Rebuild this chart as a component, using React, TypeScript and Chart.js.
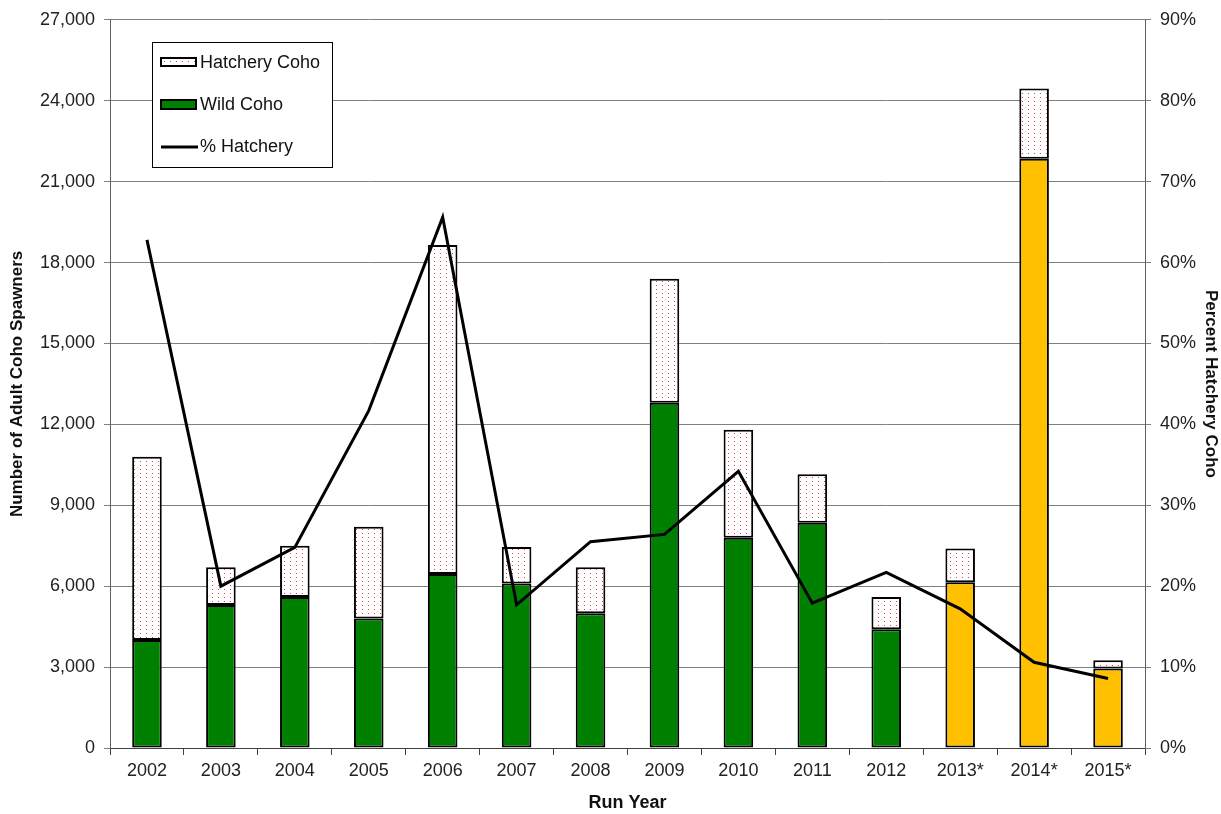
import React, { useEffect, useRef } from "react";
import Chart from "chart.js/auto";

const runYears = ["2002", "2003", "2004", "2005", "2006", "2007", "2008", "2009", "2010", "2011", "2012", "2013*", "2014*", "2015*"];
const wildCoho = [4000, 5300, 5600, 4800, 6450, 6100, 5000, 12800, 7800, 8350, 4400, 6150, 21850, 2950];
const hatcheryCoho = [6800, 1400, 1900, 3400, 12200, 1350, 1700, 4600, 4000, 1800, 1200, 1250, 2600, 300];
const pctHatchery = [62.8, 20.0, 24.8, 41.7, 65.6, 17.7, 25.5, 26.4, 34.2, 17.9, 21.7, 17.2, 10.6, 8.6];

const FONT = "'Liberation Sans', Arial, sans-serif";
const GREEN = "#008000";
const GOLD = "#FFC000";

function makePattern(): CanvasPattern | string {
  const c = document.createElement("canvas");
  c.width = 6;
  c.height = 4;
  const ctx = c.getContext("2d");
  if (!ctx) return "#ffffff";
  ctx.fillStyle = "#ffffff";
  ctx.fillRect(0, 0, 6, 4);
  ctx.fillStyle = "#e04848";
  ctx.fillRect(2, 1, 1, 1);
  const p = ctx.createPattern(c, "repeat");
  return p || "#ffffff";
}

export default function App() {
  const ref = useRef<HTMLCanvasElement | null>(null);

  useEffect(() => {
    if (!ref.current) return;
    const pattern = makePattern();

    const legendPlugin = {
      id: "boxLegend",
      afterDatasetsDraw(chart: any) {
        const ctx = chart.ctx as CanvasRenderingContext2D;
        ctx.save();
        const x = 152.5, y = 42.5, w = 180, h = 125;
        ctx.fillStyle = "#ffffff";
        ctx.fillRect(x, y, w, h);
        ctx.strokeStyle = "#000000";
        ctx.lineWidth = 1;
        ctx.strokeRect(x, y, w, h);
        ctx.font = `18px ${FONT}`;
        ctx.textBaseline = "middle";
        ctx.textAlign = "left";
        // Hatchery
        ctx.fillStyle = pattern as any;
        ctx.fillRect(161, 58, 35, 8);
        ctx.lineWidth = 2;
        ctx.strokeRect(161, 58, 35, 8);
        ctx.fillStyle = "#111";
        ctx.fillText("Hatchery Coho", 200, 63);
        // Wild
        ctx.fillStyle = GREEN;
        ctx.fillRect(161, 100, 35, 9);
        ctx.strokeStyle = "#000";
        ctx.strokeRect(161, 100, 35, 9);
        ctx.fillStyle = "#111";
        ctx.fillText("Wild Coho", 200, 105);
        // Line
        ctx.beginPath();
        ctx.moveTo(161, 147);
        ctx.lineTo(198, 147);
        ctx.lineWidth = 3;
        ctx.stroke();
        ctx.fillText("% Hatchery", 200, 147);
        ctx.restore();
      },
    };

    const wildColors = runYears.map((y) => (y.endsWith("*") ? GOLD : GREEN));

    const chart = new Chart(ref.current, {
      type: "bar",
      data: {
        labels: runYears,
        datasets: [
          {
            type: "bar",
            label: "Wild Coho",
            data: wildCoho,
            backgroundColor: wildColors,
            borderColor: "#000",
            borderWidth: 2,
            borderSkipped: false,
            stack: "s",
            yAxisID: "y",
            order: 1,
            barPercentage: 0.4,
            categoryPercentage: 1,
          },
          {
            type: "bar",
            label: "Hatchery Coho",
            data: hatcheryCoho,
            backgroundColor: pattern as any,
            borderColor: "#000",
            borderWidth: 2,
            borderSkipped: false,
            stack: "s",
            yAxisID: "y",
            order: 1,
            barPercentage: 0.4,
            categoryPercentage: 1,
          },
          {
            type: "line",
            label: "% Hatchery",
            data: pctHatchery,
            borderColor: "#000",
            borderWidth: 3,
            pointRadius: 0,
            tension: 0,
            fill: false,
            yAxisID: "y1",
            order: 0,
          } as any,
        ],
      },
      options: {
        responsive: false,
        animation: false,
        devicePixelRatio: 1,
        layout: { padding: { top: 19, left: 0, right: 0, bottom: 0 } },
        plugins: {
          legend: { display: false },
          tooltip: { enabled: false },
        },
        scales: {
          x: {
            stacked: true,
            afterFit: (s: any) => {
              s.height = 66;
            },
            grid: {
              display: true,
              offset: true,
              drawOnChartArea: false,
              drawTicks: true,
              tickLength: 7,
              color: "#404040",
            },
            border: { display: true, color: "#404040", width: 1 },
            ticks: { color: "#222", padding: 5, font: { family: FONT, size: 18 } },
            title: {
              display: true,
              text: "Run Year",
              color: "#111",
              padding: { top: 0, bottom: 0 },
              font: { family: FONT, size: 18, weight: "bold" },
            },
          },
          y: {
            stacked: true,
            position: "left",
            min: 0,
            max: 27000,
            afterFit: (s: any) => {
              s.width = 110;
            },
            ticks: {
              stepSize: 3000,
              color: "#222",
              padding: 9,
              font: { family: FONT, size: 18 },
              callback: (v: any) => Number(v).toLocaleString("en-US"),
            },
            grid: { color: "#808080", lineWidth: 1, tickLength: 6 },
            border: { display: true, color: "#606060", width: 1 },
            title: {
              display: true,
              text: "Number of Adult Coho Spawners",
              color: "#111",
              padding: { top: 7, bottom: 0 },
              font: { family: FONT, size: 17, weight: "bold" },
            },
          },
          y1: {
            position: "right",
            min: 0,
            max: 90,
            afterFit: (s: any) => {
              s.width = 76;
            },
            ticks: {
              stepSize: 10,
              color: "#222",
              padding: 9,
              font: { family: FONT, size: 18 },
              callback: (v: any) => `${v}%`,
            },
            grid: { drawOnChartArea: false, color: "#808080", tickLength: 6 },
            border: { display: true, color: "#606060", width: 1 },
            title: {
              display: true,
              text: "Percent Hatchery Coho",
              color: "#111",
              padding: { top: 0, bottom: 0 },
              font: { family: FONT, size: 17, weight: "bold" },
            },
          },
        },
      },
      plugins: [legendPlugin],
    });

    return () => chart.destroy();
  }, []);

  return (
    <div style={{ position: "fixed", left: 0, top: 0, width: 1221, height: 814, background: "#fff" }}>
      <canvas ref={ref} width={1221} height={814} style={{ display: "block" }} />
    </div>
  );
}
